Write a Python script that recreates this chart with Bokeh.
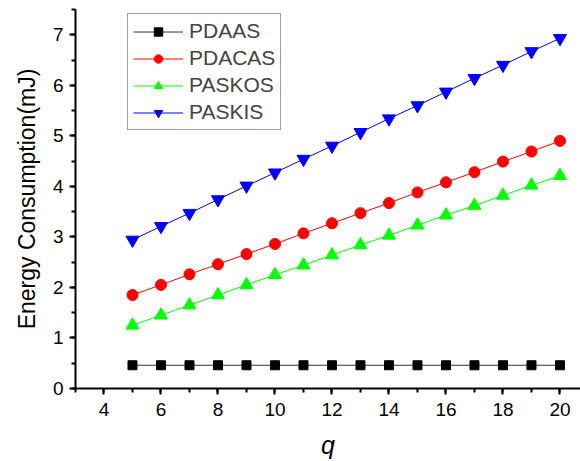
from bokeh.plotting import figure
from bokeh.models import SingleIntervalTicker, Range1d, Legend, LegendItem
from bokeh.embed import file_html
from bokeh.resources import INLINE

q = [5, 6, 7, 8, 9, 10, 11, 12, 13, 14, 15, 16, 17, 18, 19, 20]
pdaas = [0.46] * 16
pdacas = [1.85, 2.05, 2.26, 2.46, 2.66, 2.86, 3.07, 3.27, 3.47, 3.67, 3.88, 4.08, 4.28, 4.49, 4.69, 4.90]
paskos = [1.25, 1.45, 1.65, 1.85, 2.05, 2.25, 2.44, 2.64, 2.84, 3.03, 3.23, 3.43, 3.62, 3.82, 4.02, 4.21]
paskis = [2.94, 3.21, 3.47, 3.74, 4.01, 4.27, 4.54, 4.80, 5.07, 5.34, 5.60, 5.87, 6.14, 6.40, 6.67, 6.93]

names = ["PDAAS", "PDACAS", "PASKOS", "PASKIS"]
series = [pdaas, pdacas, paskos, paskis]
colors = ["#000000", "#ff0000", "#00ff00", "#0000ff"]
line_colors = ["#333333", "#ff0000", "#00ff00", "#0000ff"]
markers = ["square", "circle", "triangle", "inverted_triangle"]
sizes = [9, 11, 13, 13]

FONT = "Liberation Sans"

p = figure(width=580, height=461, output_backend="svg", toolbar_location=None,
           x_range=Range1d(3, 20.72), y_range=Range1d(0, 7.5),
           min_border_left=75, min_border_right=0, min_border_top=9, min_border_bottom=10)
p.outline_line_color = None
p.xgrid.visible = False
p.ygrid.visible = False

items = []
for name, ys, c, lc, m, s in zip(names, series, colors, line_colors, markers, sizes):
    r1 = p.line(q, ys, line_color=lc, line_width=1)
    r2 = p.scatter(q, ys, marker=m, size=s, fill_color=c, line_color=c)
    items.append(LegendItem(label=name, renderers=[r1, r2]))

p.xaxis.ticker = SingleIntervalTicker(interval=2, num_minor_ticks=2)
p.yaxis.ticker = SingleIntervalTicker(interval=1, num_minor_ticks=2)

for ax in (p.xaxis[0], p.yaxis[0]):
    ax.axis_line_width = 2
    ax.axis_line_color = "black"
    ax.major_tick_line_width = 2
    ax.minor_tick_line_width = 2
    ax.major_tick_in = 0
    ax.major_tick_out = 6
    ax.minor_tick_in = 0
    ax.minor_tick_out = 4
    ax.major_label_text_font = FONT
    ax.major_label_text_font_size = "19px"
    ax.major_label_text_color = "black"
    ax.axis_label_text_font = FONT
    ax.axis_label_text_color = "black"

p.xaxis.major_label_standoff = 8
p.yaxis.major_label_standoff = 6
p.yaxis.axis_label = "Energy Consumption(mJ)"
p.yaxis.axis_label_text_font_size = "23px"
p.yaxis.axis_label_text_font_style = "normal"
p.yaxis.axis_label_standoff = 10
p.xaxis.axis_label = "q"
p.xaxis.axis_label_text_font_size = "25px"
p.xaxis.axis_label_text_font_style = "italic"
p.xaxis.axis_label_standoff = 12

legend = Legend(items=items, location=(52, 258))
legend.glyph_width = 50
legend.glyph_height = 21
legend.label_height = 21
legend.spacing = 3
legend.padding = 5
legend.margin = 0
legend.label_standoff = 6
legend.label_text_font = FONT
legend.label_text_font_size = "21px"
legend.border_line_color = "#404040"
legend.border_line_width = 1
legend.background_fill_alpha = 1
p.add_layout(legend, "center")

open("out.html", "w").write(file_html(p, INLINE))
